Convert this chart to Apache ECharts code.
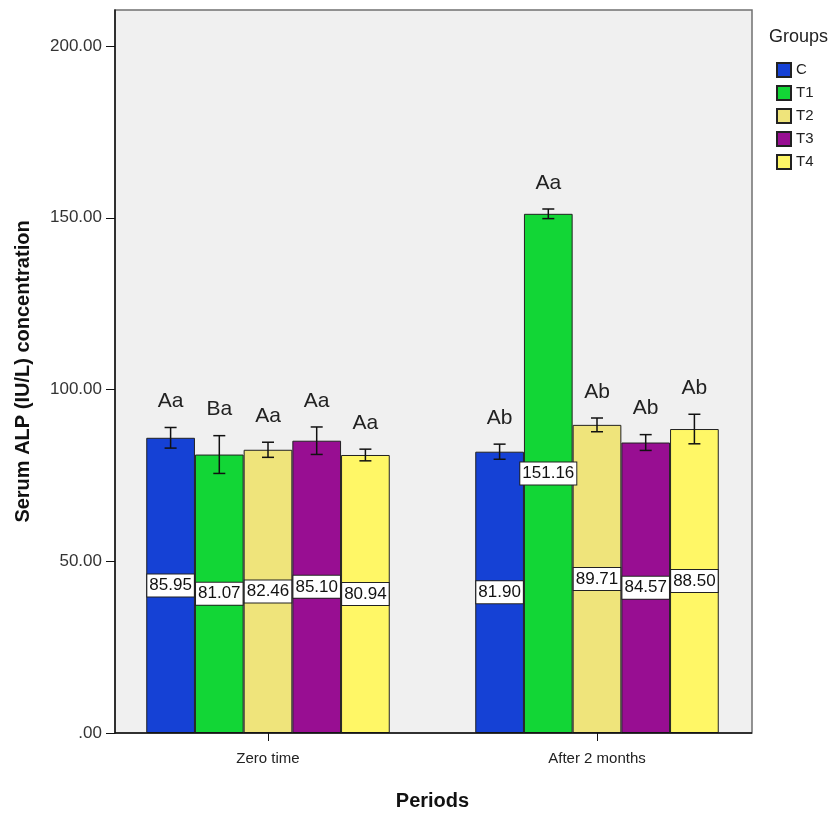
<!DOCTYPE html>
<html>
<head>
<meta charset="utf-8">
<title>Serum ALP</title>
<script src="https://cdn.jsdelivr.net/npm/echarts@6/dist/echarts.min.js"></script>
<style>
  html, body { margin: 0; padding: 0; background: #fff; }
  #chart { width: 832px; height: 813px; }
</style>
</head>
<body>
<div id="chart"></div>
<script>
const periods = ["Zero time", "After 2 months"];
const groups = ["C", "T1", "T2", "T3", "T4"];

// means per group, one value per period
const meanC = [85.95, 81.90];
const meanT1 = [81.07, 151.16];
const meanT2 = [82.46, 89.71];
const meanT3 = [85.10, 84.57];
const meanT4 = [80.94, 88.50];

// error bar half lengths
const errC = [3.0, 2.2];
const errT1 = [5.5, 1.4];
const errT2 = [2.2, 2.0];
const errT3 = [4.0, 2.3];
const errT4 = [1.7, 4.3];

// significance letters
const letC = ["Aa", "Ab"];
const letT1 = ["Ba", "Aa"];
const letT2 = ["Aa", "Ab"];
const letT3 = ["Aa", "Ab"];
const letT4 = ["Aa", "Ab"];

const yTicks = [0, 50, 100, 150, 200];

const colors = ["#1541d5", "#12d636", "#efe47b", "#980e92", "#fff766"];
const FONT = "Liberation Sans, Arial, sans-serif";
const BAR_W = 48.7;

const means = [meanC, meanT1, meanT2, meanT3, meanT4];
const errs = [errC, errT1, errT2, errT3, errT4];
const lets = [letC, letT1, letT2, letT3, letT4];

// flat list for the error bar / letter series
const errData = [];
const errLetters = [];
groups.forEach((g, s) => {
  periods.forEach((p, c) => {
    errData.push([c, s, means[s][c], errs[s][c]]);
    errLetters.push(lets[s][c]);
  });
});

const chart = echarts.init(document.getElementById("chart"));

const barSeries = groups.map((g, s) => ({
  name: g,
  type: "bar",
  data: means[s],
  barWidth: BAR_W,
  barGap: "0%",
  itemStyle: { color: colors[s], borderColor: "#222", borderWidth: 1 },
  label: {
    show: true,
    position: "inside",
    formatter: (p) => p.value.toFixed(2),
    fontFamily: FONT,
    fontSize: 17,
    color: "#111",
    backgroundColor: "#fff",
    borderColor: "#222",
    borderWidth: 1,
    padding: [3, 2, 2, 2]
  },
  z: 2
}));

function renderErr(params, api) {
  const cat = api.value(0);
  const s = api.value(1);
  const m = api.value(2);
  const e = api.value(3);
  const x = api.coord([cat, 0])[0] + (s - 2) * BAR_W;
  const yTop = api.coord([cat, m + e])[1];
  const yBot = api.coord([cat, m - e])[1];
  const cap = 6;
  const ls = { stroke: "#111", lineWidth: 1.5 };
  return {
    type: "group",
    children: [
      { type: "line", shape: { x1: x, y1: yTop, x2: x, y2: yBot }, style: ls },
      { type: "line", shape: { x1: x - cap, y1: yTop, x2: x + cap, y2: yTop }, style: ls },
      { type: "line", shape: { x1: x - cap, y1: yBot, x2: x + cap, y2: yBot }, style: ls },
      {
        type: "text",
        x: x,
        y: yTop - 26,
        style: {
          text: errLetters[params.dataIndex],
          align: "center",
          verticalAlign: "middle",
          fontFamily: FONT,
          fontSize: 21,
          fill: "#222"
        }
      }
    ]
  };
}

chart.setOption({
  animation: false,
  backgroundColor: "#fff",
  textStyle: { fontFamily: FONT },
  title: {
    text: "Groups",
    left: 764,
    top: 23,
    textStyle: { fontFamily: FONT, fontSize: 18, fontWeight: "normal", color: "#222" }
  },
  legend: {
    data: groups,
    orient: "vertical",
    left: 771,
    top: 57,
    itemWidth: 14,
    itemHeight: 14,
    itemGap: 7,
    icon: "rect",
    textStyle: { fontFamily: FONT, fontSize: 15, color: "#222" }
  },
  grid: { left: 103.5, right: 70.5, top: 10, bottom: 80, outerBoundsMode: "none" },
  graphic: [
    {
      type: "rect",
      z: -10,
      shape: { x: 115, y: 10, width: 637, height: 723 },
      style: { fill: "#f0f0f0", stroke: "#707070", lineWidth: 1.5 }
    },
    {
      type: "line",
      z: 100,
      shape: { x1: 115, y1: 733, x2: 752, y2: 733 },
      style: { stroke: "#111", lineWidth: 1.5 }
    }
  ],
  xAxis: {
    type: "category",
    data: periods,
    axisLine: { show: false },
    axisTick: { show: true, alignWithLabel: true, length: 8, lineStyle: { color: "#111" } },
    axisLabel: { fontFamily: FONT, fontSize: 15, color: "#222", margin: 18 },
    name: "Periods",
    nameLocation: "middle",
    nameGap: 58,
    nameTextStyle: { fontFamily: FONT, fontSize: 20, fontWeight: "bold", color: "#111" }
  },
  yAxis: {
    type: "value",
    min: 0,
    max: 210.5,
    interval: 50,
    offset: -11.5,
    splitLine: { show: false },
    axisLine: { show: true, lineStyle: { color: "#111", width: 1.5 } },
    axisTick: { show: true, length: 9, customValues: yTicks, lineStyle: { color: "#111" } },
    axisLabel: {
      customValues: yTicks,
      fontFamily: FONT,
      fontSize: 17,
      color: "#333",
      margin: 13,
      formatter: (v) => (v === 0 ? ".00" : v.toFixed(2))
    },
    name: "Serum ALP (IU/L) concentration",
    nameLocation: "middle",
    nameGap: 82,
    nameTextStyle: { fontFamily: FONT, fontSize: 20, fontWeight: "bold", color: "#111" }
  },
  series: [
    ...barSeries,
    {
      type: "custom",
      renderItem: renderErr,
      data: errData,
      encode: { x: 0, y: 2 },
      clip: false,
      z: 5,
      silent: true
    }
  ]
});
</script>
</body>
</html>
